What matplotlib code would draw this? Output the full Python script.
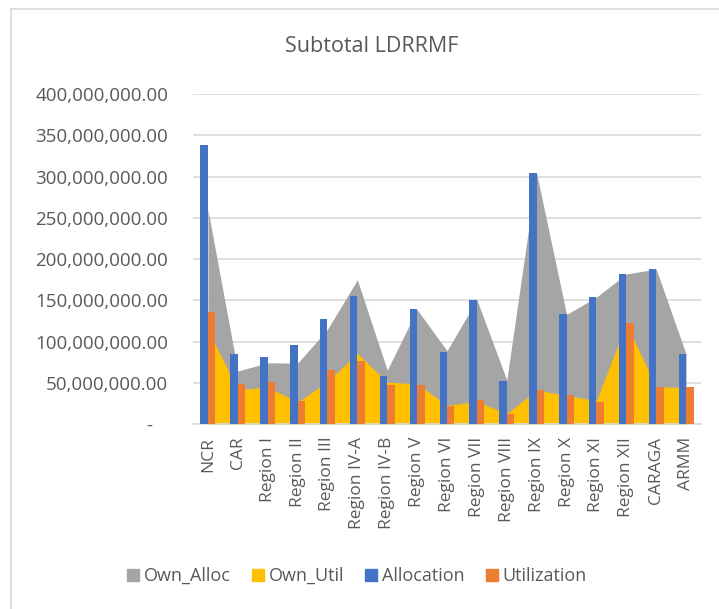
import numpy as np
import matplotlib
matplotlib.use("Agg")
import matplotlib.pyplot as plt
from matplotlib.lines import Line2D
from matplotlib.ticker import FuncFormatter, MultipleLocator

plt.rcParams['font.family'] = ['Open Sans', 'DejaVu Sans']

# Datos (pesos)
regions = ['NCR', 'CAR', 'Region I', 'Region II', 'Region III', 'Region IV-A',
           'Region IV-B', 'Region V', 'Region VI', 'Region VII', 'Region VIII',
           'Region IX', 'Region X', 'Region XI', 'Region XII', 'CARAGA', 'ARMM']
own_alloc = [260e6, 64.5e6, 74.5e6, 74e6, 115e6, 175e6, 65.5e6, 139e6, 89e6,
             151e6, 53.5e6, 304e6, 133e6, 154e6, 182e6, 188e6, 85e6]
own_util = [114e6, 42e6, 45e6, 27e6, 51.5e6, 86e6, 51e6, 49e6, 23e6,
            27.5e6, 13e6, 41.5e6, 35e6, 28.5e6, 122e6, 45e6, 45e6]
allocation = [338e6, 85e6, 82e6, 96e6, 128e6, 155e6, 59e6, 139.5e6, 88e6,
              151e6, 52e6, 304e6, 133e6, 154e6, 182e6, 188e6, 85e6]
utilization = [136e6, 49e6, 51e6, 28e6, 66e6, 77e6, 48e6, 48e6, 22.5e6,
               29e6, 13e6, 42e6, 35e6, 27e6, 122.5e6, 45e6, 45e6]

GRAY = '#A5A5A5'
YELLOW = '#FFC000'
BLUE = '#4472C4'
ORANGE = '#ED7D31'
TXT = '#595959'

W, H = 719, 609
fig = plt.figure(figsize=(W / 100, H / 100), dpi=100)
ax = fig.add_axes([193 / W, 1 - 424.3 / H, (701 - 193) / W, (424.3 - 94) / H])

x = np.arange(len(regions))
ax.fill_between(x, own_alloc, color=GRAY, lw=0, zorder=1)
ax.fill_between(x, own_util, color=YELLOW, lw=0, zorder=2)
bw = 0.25
ax.bar(x - bw / 2, allocation, width=bw, color=BLUE, zorder=3)
ax.bar(x + bw / 2, utilization, width=bw, color=ORANGE, zorder=3)

ax.set_xlim(-0.5, len(regions) - 0.5)
ax.set_ylim(0, 400e6)
ax.yaxis.set_major_locator(MultipleLocator(50e6))
ax.yaxis.set_major_formatter(FuncFormatter(
    lambda v, p: f'{v:,.2f}' if v > 0 else '-   '))
ax.grid(axis='y', color='#D9D9D9', lw=1.2, zorder=0)
ax.set_axisbelow(True)
for s in ['top', 'right', 'left']:
    ax.spines[s].set_visible(False)
ax.spines['bottom'].set_color('#D9D9D9')
ax.spines['bottom'].set_linewidth(1.2)
ax.tick_params(axis='y', length=0, pad=18, labelsize=13.5, labelcolor=TXT)
ax.tick_params(axis='x', length=0, pad=9, labelsize=12.5, labelcolor=TXT)
ax.set_xticks(x)
ax.set_xticklabels(regions, rotation=90)

fig.text(372 / W, 1 - 46 / H, 'Subtotal LDRRMF', ha='center', va='center',
         fontsize=15.5, color=TXT)

handles = [Line2D([], [], marker='s', ls='', color=c, markersize=8)
           for c in [GRAY, YELLOW, BLUE, ORANGE]]
fig.legend(handles, ['Own_Alloc', 'Own_Util', 'Allocation', 'Utilization'],
           loc='center', bbox_to_anchor=(357 / W, 1 - 576 / H), ncol=4,
           frameon=False, fontsize=13, labelcolor=TXT, handletextpad=0.3,
           columnspacing=1.2, handlelength=0.6)

# borde del grafico (recortado)
fig.add_artist(Line2D([11 / W, 1], [1 - 9 / H, 1 - 9 / H], color='#D9D9D9', lw=1.2))
fig.add_artist(Line2D([11 / W, 11 / W], [0, 1 - 9 / H], color='#D9D9D9', lw=1.2))

fig.savefig('out.png', dpi=100)
